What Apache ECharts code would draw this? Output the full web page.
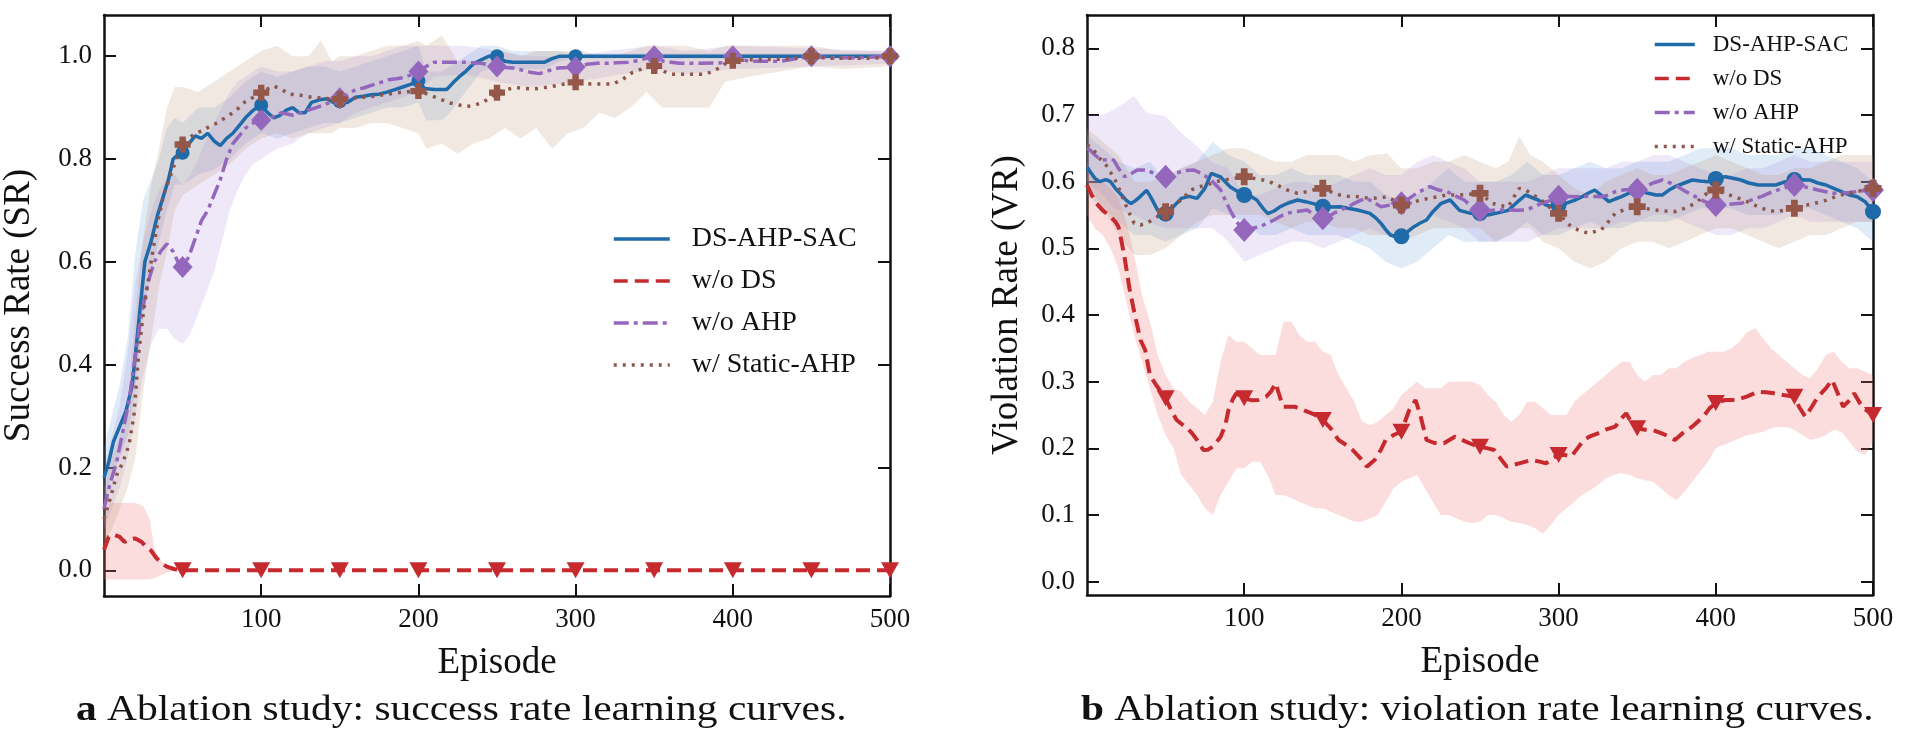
<!DOCTYPE html>
<html>
<head>
<meta charset="utf-8">
<script src="https://cdn.jsdelivr.net/npm/echarts@6/dist/echarts.min.js"></script>
<style>
html,body{margin:0;padding:0;background:#fff;}
#chart{width:1905px;height:745px;}
</style>
</head>
<body>
<div id="chart"></div>
<script>
// ---------- tick labels ----------
const episodeTicks = [100, 200, 300, 400, 500];
const srTicks = [0, 0.2, 0.4, 0.6, 0.8, 1.0];
const vrTicks = [0, 0.1, 0.2, 0.3, 0.4, 0.5, 0.6, 0.7, 0.8];
const methodNames = ['DS-AHP-SAC', 'w/o DS', 'w/o AHP', 'w/ Static-AHP'];

// ---------- (a) success rate: mean curves [episode, value] ----------
const srDsAhpSac = [[0,0.18],[3,0.21],[6,0.25],[10,0.28],[14,0.31],[18,0.36],[22,0.48],[26,0.60],[30,0.64],[34,0.69],[38,0.73],[41,0.76],[44,0.80],[47,0.808],[50,0.812],[54,0.83],[58,0.845],[62,0.84],[66,0.85],[70,0.835],[74,0.826],[78,0.84],[82,0.85],[86,0.865],[90,0.88],[95,0.895],[100,0.905],[104,0.89],[108,0.88],[112,0.885],[116,0.895],[120,0.90],[124,0.89],[128,0.89],[132,0.91],[137,0.915],[142,0.917],[146,0.91],[150,0.912],[155,0.91],[160,0.92],[165,0.922],[170,0.925],[175,0.926],[180,0.93],[185,0.935],[190,0.94],[195,0.945],[200,0.952],[204,0.937],[210,0.935],[218,0.935],[222,0.948],[226,0.96],[230,0.97],[235,0.985],[240,0.993],[245,1.0],[250,1.0],[255,0.99],[260,0.988],[270,0.988],[280,0.988],[285,0.995],[290,1.0],[300,1.0],[350,1.0],[400,1.0],[450,1.0],[500,1.0]];
const srWoDs = [[0,0.04],[3,0.065],[6,0.07],[10,0.065],[13,0.055],[16,0.06],[20,0.062],[24,0.055],[27,0.045],[30,0.038],[33,0.025],[36,0.015],[40,0.007],[45,0.002],[50,0],[100,0],[150,0],[200,0],[250,0],[300,0],[350,0],[400,0],[450,0],[500,0]];
const srWoAhp = [[0,0.12],[4,0.17],[8,0.21],[12,0.27],[16,0.33],[20,0.42],[24,0.50],[28,0.56],[32,0.60],[36,0.62],[40,0.635],[44,0.62],[47,0.60],[50,0.59],[54,0.61],[58,0.645],[62,0.68],[66,0.70],[70,0.73],[74,0.76],[78,0.80],[82,0.83],[86,0.845],[90,0.86],[95,0.87],[100,0.876],[106,0.88],[113,0.89],[120,0.885],[125,0.89],[130,0.895],[135,0.90],[140,0.905],[145,0.912],[150,0.918],[155,0.925],[160,0.935],[165,0.938],[170,0.943],[175,0.948],[181,0.954],[186,0.956],[190,0.958],[195,0.963],[200,0.97],[205,0.98],[210,0.988],[220,0.988],[230,0.988],[240,0.986],[245,0.983],[250,0.98],[255,0.978],[260,0.977],[267,0.972],[272,0.968],[277,0.966],[283,0.972],[289,0.977],[295,0.978],[300,0.979],[307,0.984],[314,0.986],[320,0.986],[326,0.987],[335,0.988],[340,0.992],[345,0.996],[350,1.0],[356,0.99],[366,0.986],[380,0.986],[395,0.987],[400,1.0],[410,0.99],[430,0.99],[450,1.0],[460,0.997],[480,0.997],[500,1.0]];
const srStaticAhp = [[0,0.10],[4,0.14],[8,0.185],[12,0.21],[16,0.245],[19,0.30],[22,0.42],[25,0.50],[28,0.56],[31,0.62],[35,0.69],[38,0.73],[42,0.765],[46,0.80],[50,0.828],[54,0.84],[58,0.85],[63,0.855],[68,0.865],[72,0.87],[77,0.88],[82,0.89],[86,0.90],[90,0.912],[95,0.92],[100,0.929],[104,0.936],[108,0.942],[113,0.935],[118,0.926],[125,0.924],[132,0.92],[140,0.918],[150,0.916],[158,0.918],[165,0.92],[172,0.922],[180,0.926],[190,0.93],[200,0.932],[205,0.927],[209,0.922],[215,0.915],[220,0.909],[226,0.905],[231,0.902],[236,0.905],[241,0.91],[246,0.92],[250,0.929],[256,0.935],[262,0.939],[268,0.937],[273,0.936],[278,0.938],[283,0.94],[290,0.944],[295,0.947],[300,0.949],[305,0.947],[310,0.946],[318,0.946],[324,0.946],[330,0.955],[336,0.968],[342,0.975],[350,0.981],[355,0.972],[360,0.965],[370,0.965],[383,0.965],[390,0.975],[395,0.985],[400,0.991],[410,0.993],[420,0.993],[430,0.994],[440,0.996],[450,1.0],[460,0.996],[475,0.996],[490,0.996],[500,1.0]];

// ---------- (a) success rate: bands [episode, low, high] ----------
const srBandDsAhpSac = [[0,0.12,0.24],[5,0.18,0.30],[10,0.22,0.36],[15,0.26,0.45],[20,0.35,0.62],[25,0.50,0.72],[30,0.58,0.76],[35,0.64,0.80],[40,0.70,0.86],[45,0.75,0.88],[50,0.75,0.87],[60,0.77,0.90],[70,0.78,0.90],[80,0.80,0.92],[90,0.83,0.95],[100,0.85,0.97],[110,0.84,0.96],[120,0.85,0.97],[130,0.86,0.98],[140,0.87,0.98],[150,0.87,0.97],[160,0.88,0.98],[170,0.89,0.99],[180,0.90,1.00],[190,0.90,1.01],[200,0.91,1.02],[205,0.875,0.97],[215,0.876,0.97],[220,0.89,0.98],[230,0.93,1.00],[240,0.97,1.02],[250,0.98,1.02],[260,0.975,1.01],[280,0.975,1.01],[290,0.99,1.01],[300,0.995,1.005],[500,0.995,1.005]];
const srBandWoDs = [[0,-0.018,0.10],[3,-0.018,0.131],[10,-0.018,0.131],[20,-0.018,0.131],[25,-0.018,0.125],[29,-0.018,0.10],[32,-0.015,0.043],[36,-0.01,0.02],[40,-0.005,0.008],[45,0,0.002],[50,0,0]];
const srBandWoAhp = [[0,0.08,0.20],[5,0.12,0.26],[10,0.16,0.32],[15,0.22,0.42],[20,0.30,0.56],[25,0.38,0.64],[30,0.44,0.70],[35,0.47,0.74],[40,0.47,0.76],[45,0.45,0.77],[50,0.44,0.75],[55,0.46,0.77],[60,0.50,0.80],[65,0.54,0.84],[70,0.58,0.87],[75,0.64,0.90],[80,0.70,0.93],[85,0.74,0.95],[90,0.77,0.96],[95,0.79,0.97],[100,0.80,0.98],[110,0.82,0.97],[120,0.83,0.97],[130,0.85,0.98],[140,0.86,0.99],[150,0.87,0.99],[160,0.89,1.00],[170,0.90,1.00],[180,0.91,1.01],[190,0.92,1.02],[200,0.93,1.02],[210,0.96,1.02],[230,0.965,1.02],[250,0.95,1.01],[270,0.94,1.00],[300,0.95,1.00],[320,0.96,1.01],[350,0.975,1.02],[370,0.965,1.01],[400,0.975,1.02],[450,0.98,1.015],[500,0.985,1.01]];
const srBandStaticAhp = [[0,0.05,0.16],[5,0.08,0.22],[10,0.12,0.26],[15,0.16,0.32],[20,0.22,0.50],[25,0.35,0.65],[30,0.45,0.75],[35,0.55,0.82],[40,0.62,0.90],[45,0.70,0.94],[50,0.73,0.94],[60,0.75,0.93],[70,0.77,0.95],[80,0.79,0.97],[90,0.82,0.99],[100,0.84,1.01],[110,0.85,1.02],[120,0.84,1.00],[130,0.85,1.00],[138,0.85,1.03],[145,0.85,0.99],[150,0.86,1.00],[160,0.86,1.00],[170,0.87,1.01],[180,0.87,1.02],[190,0.86,1.02],[200,0.85,1.03],[205,0.82,1.02],[215,0.83,1.04],[225,0.81,0.99],[235,0.83,0.99],[245,0.84,1.00],[255,0.86,1.01],[265,0.84,1.00],[275,0.86,1.01],[285,0.82,1.01],[295,0.85,1.01],[305,0.86,1.01],[315,0.89,1.00],[325,0.88,1.00],[335,0.90,1.01],[345,0.93,1.02],[355,0.90,1.02],[370,0.90,1.02],[385,0.90,1.01],[395,0.95,1.02],[410,0.96,1.02],[430,0.97,1.02],[450,0.98,1.02],[470,0.975,1.01],[500,0.98,1.01]];

// ---------- (b) violation rate: mean curves [episode, value] ----------
const vrDsAhpSac = [[0,0.622],[2,0.615],[5,0.605],[8,0.60],[12,0.603],[15,0.60],[18,0.59],[22,0.58],[25,0.572],[28,0.567],[31,0.572],[34,0.578],[38,0.587],[41,0.575],[45,0.557],[50,0.552],[55,0.5625],[60,0.575],[65,0.578],[70,0.575],[75,0.59],[79,0.6125],[85,0.607],[91,0.5925],[96,0.585],[100,0.58],[104,0.578],[108,0.5725],[112,0.56],[115,0.552],[119,0.556],[123,0.5625],[128,0.568],[134,0.5725],[139,0.57],[144,0.567],[150,0.5625],[155,0.562],[161,0.5625],[166,0.56],[172,0.5575],[176,0.555],[180,0.5525],[184,0.545],[187,0.5375],[190,0.528],[193,0.52],[197,0.517],[200,0.518],[204,0.525],[208,0.5325],[212,0.538],[216,0.5425],[220,0.555],[225,0.567],[231,0.5725],[237,0.557],[244,0.5525],[250,0.553],[255,0.55],[260,0.5525],[268,0.557],[274,0.57],[279,0.58],[287,0.5725],[292,0.565],[296,0.5625],[300,0.565],[304,0.567],[310,0.572],[315,0.5775],[319,0.583],[323,0.5875],[328,0.578],[332,0.57],[336,0.574],[340,0.5775],[345,0.583],[350,0.5875],[357,0.5825],[362,0.58],[366,0.58],[370,0.587],[374,0.5925],[380,0.598],[385,0.6025],[390,0.601],[395,0.60],[400,0.604],[406,0.6075],[411,0.605],[416,0.6025],[421,0.598],[427,0.595],[432,0.595],[438,0.595],[443,0.599],[450,0.6025],[455,0.603],[460,0.6025],[465,0.598],[470,0.595],[475,0.59],[480,0.585],[485,0.58],[490,0.5775],[495,0.57],[500,0.555]];
const vrWoDs = [[0,0.595],[3,0.58],[6,0.5675],[10,0.557],[15,0.5475],[18,0.54],[20,0.5325],[22,0.51],[24,0.485],[27,0.44],[30,0.405],[34,0.3625],[37,0.3475],[40,0.31],[44,0.295],[47,0.285],[50,0.275],[54,0.255],[57,0.2425],[61,0.235],[64,0.23],[67,0.222],[70,0.2125],[74,0.1975],[77,0.198],[80,0.2025],[85,0.2175],[88,0.235],[90,0.2575],[93,0.275],[95,0.2825],[100,0.275],[105,0.272],[109,0.2725],[114,0.2775],[117,0.285],[120,0.2975],[123,0.275],[125,0.2625],[132,0.2625],[137,0.258],[143,0.2525],[147,0.248],[150,0.2425],[155,0.23],[160,0.2125],[165,0.205],[169,0.1975],[174,0.185],[178,0.1725],[183,0.1825],[187,0.198],[190,0.2125],[195,0.22],[200,0.225],[205,0.2575],[209,0.2725],[212,0.25],[216,0.2125],[221,0.208],[227,0.2075],[234,0.2175],[241,0.21],[246,0.205],[250,0.2025],[255,0.20],[259,0.1975],[263,0.185],[267,0.1725],[271,0.175],[275,0.1775],[283,0.1825],[288,0.18],[292,0.1775],[296,0.185],[300,0.19],[304,0.19],[308,0.1875],[312,0.20],[316,0.2125],[320,0.218],[325,0.2225],[330,0.228],[336,0.2325],[340,0.245],[343,0.2525],[346,0.24],[350,0.23],[355,0.228],[360,0.2275],[366,0.222],[370,0.218],[374,0.2125],[380,0.225],[385,0.2325],[392,0.2475],[396,0.26],[400,0.268],[406,0.2725],[413,0.2725],[420,0.278],[427,0.285],[432,0.284],[437,0.2825],[443,0.28],[450,0.2775],[453,0.262],[457,0.2475],[461,0.262],[465,0.2775],[470,0.29],[474,0.3025],[478,0.28],[481,0.2625],[485,0.272],[488,0.2825],[493,0.2625],[497,0.255],[500,0.25]];
const vrWoAhp = [[0,0.65],[2,0.6475],[5,0.64],[9,0.6325],[13,0.633],[17,0.6325],[20,0.62],[24,0.6075],[28,0.612],[32,0.6175],[38,0.6175],[43,0.612],[50,0.6075],[55,0.612],[60,0.615],[64,0.617],[68,0.6175],[73,0.612],[79,0.6025],[82,0.595],[85,0.5875],[88,0.572],[91,0.5575],[95,0.54],[100,0.5275],[105,0.53],[110,0.5325],[115,0.538],[119,0.5425],[123,0.548],[127,0.5525],[133,0.555],[140,0.5575],[145,0.55],[150,0.545],[155,0.55],[161,0.5575],[166,0.562],[170,0.5675],[174,0.572],[178,0.575],[183,0.568],[187,0.5625],[193,0.565],[200,0.5675],[205,0.575],[210,0.583],[214,0.588],[218,0.5925],[223,0.588],[229,0.585],[235,0.578],[240,0.5725],[245,0.562],[250,0.5575],[255,0.556],[260,0.5575],[268,0.5575],[274,0.557],[279,0.5575],[285,0.563],[289,0.5675],[295,0.572],[300,0.5775],[305,0.578],[310,0.5775],[318,0.578],[327,0.5775],[332,0.58],[336,0.585],[342,0.588],[350,0.588],[355,0.592],[360,0.598],[366,0.6025],[371,0.598],[376,0.5925],[381,0.585],[387,0.5775],[393,0.57],[400,0.565],[408,0.566],[416,0.5675],[422,0.572],[429,0.5775],[436,0.585],[443,0.59],[450,0.595],[457,0.592],[465,0.5875],[470,0.585],[475,0.5825],[482,0.583],[490,0.585],[495,0.587],[500,0.5875]];
const vrStaticAhp = [[0,0.655],[2,0.6525],[5,0.645],[7,0.6375],[10,0.63],[13,0.6225],[16,0.61],[19,0.5975],[22,0.58],[26,0.5575],[30,0.5375],[34,0.535],[38,0.5375],[43,0.545],[50,0.555],[55,0.565],[60,0.5725],[63,0.58],[66,0.5875],[71,0.592],[76,0.595],[82,0.60],[87,0.6025],[93,0.605],[100,0.6075],[106,0.605],[112,0.6025],[118,0.598],[123,0.5925],[128,0.587],[134,0.5825],[140,0.585],[145,0.588],[150,0.59],[155,0.585],[161,0.58],[166,0.578],[172,0.5775],[177,0.576],[182,0.575],[187,0.576],[191,0.5775],[195,0.572],[200,0.565],[206,0.568],[212,0.5725],[220,0.576],[229,0.58],[237,0.58],[243,0.581],[250,0.5825],[254,0.575],[258,0.5675],[263,0.564],[268,0.5625],[271,0.575],[275,0.59],[279,0.5875],[284,0.58],[289,0.5725],[294,0.562],[300,0.5525],[304,0.542],[308,0.5325],[313,0.527],[319,0.5225],[323,0.525],[327,0.5275],[331,0.538],[336,0.5525],[342,0.558],[350,0.5625],[355,0.56],[361,0.5575],[368,0.556],[374,0.555],[380,0.56],[387,0.5675],[392,0.578],[397,0.5875],[400,0.5875],[406,0.582],[412,0.5775],[420,0.57],[427,0.5625],[432,0.558],[438,0.555],[443,0.557],[450,0.56],[456,0.564],[463,0.5675],[470,0.572],[476,0.5775],[483,0.582],[490,0.585],[495,0.588],[500,0.59]];

// ---------- (b) violation rate: bands [episode, low, high] ----------
const vrBandDsAhpSac = [[0,0.58,0.67],[10,0.56,0.65],[20,0.54,0.63],[30,0.52,0.62],[40,0.52,0.63],[50,0.51,0.60],[60,0.52,0.62],[70,0.53,0.63],[80,0.56,0.66],[90,0.55,0.64],[100,0.54,0.63],[110,0.52,0.61],[120,0.52,0.61],[130,0.53,0.62],[140,0.52,0.61],[150,0.52,0.61],[160,0.52,0.61],[170,0.51,0.60],[180,0.50,0.60],[190,0.48,0.58],[200,0.47,0.57],[210,0.48,0.58],[220,0.50,0.60],[230,0.52,0.62],[240,0.51,0.60],[250,0.51,0.60],[260,0.51,0.60],[270,0.52,0.61],[280,0.54,0.63],[290,0.52,0.61],[300,0.52,0.61],[310,0.53,0.62],[320,0.54,0.63],[330,0.53,0.62],[340,0.53,0.62],[350,0.54,0.63],[360,0.54,0.63],[370,0.54,0.63],[380,0.55,0.64],[390,0.56,0.65],[400,0.56,0.65],[410,0.56,0.65],[420,0.55,0.64],[430,0.55,0.64],[440,0.55,0.64],[450,0.56,0.65],[460,0.56,0.65],[470,0.55,0.64],[480,0.54,0.63],[490,0.53,0.62],[500,0.51,0.60]];
const vrBandWoDs = [[0,0.55,0.63],[5,0.53,0.61],[10,0.52,0.60],[15,0.50,0.59],[20,0.47,0.575],[25,0.42,0.54],[30,0.37,0.49],[35,0.33,0.43],[40,0.29,0.39],[45,0.25,0.34],[50,0.22,0.31],[55,0.20,0.29],[60,0.16,0.285],[65,0.145,0.27],[70,0.13,0.26],[75,0.11,0.25],[80,0.10,0.27],[85,0.13,0.33],[90,0.15,0.37],[95,0.17,0.36],[100,0.17,0.36],[105,0.18,0.35],[110,0.18,0.34],[115,0.16,0.34],[120,0.13,0.34],[125,0.13,0.39],[130,0.125,0.39],[135,0.12,0.37],[140,0.115,0.36],[145,0.11,0.36],[150,0.11,0.345],[155,0.105,0.34],[160,0.10,0.31],[165,0.095,0.29],[170,0.09,0.27],[175,0.09,0.24],[180,0.095,0.235],[185,0.10,0.24],[190,0.12,0.25],[195,0.14,0.26],[200,0.15,0.28],[205,0.155,0.29],[210,0.16,0.30],[215,0.14,0.29],[220,0.12,0.29],[225,0.10,0.29],[230,0.10,0.30],[235,0.095,0.30],[240,0.09,0.30],[245,0.088,0.30],[250,0.09,0.295],[255,0.10,0.28],[260,0.10,0.27],[265,0.095,0.25],[270,0.09,0.24],[275,0.088,0.25],[280,0.085,0.27],[285,0.08,0.27],[290,0.072,0.26],[295,0.085,0.25],[300,0.10,0.25],[305,0.11,0.25],[310,0.12,0.27],[315,0.13,0.28],[320,0.137,0.29],[325,0.145,0.30],[330,0.155,0.31],[335,0.16,0.32],[340,0.163,0.33],[345,0.16,0.33],[350,0.155,0.31],[355,0.152,0.30],[360,0.15,0.31],[365,0.14,0.31],[370,0.13,0.32],[375,0.122,0.32],[380,0.135,0.33],[385,0.15,0.335],[390,0.165,0.34],[395,0.18,0.345],[400,0.20,0.345],[405,0.205,0.345],[410,0.21,0.35],[415,0.215,0.36],[420,0.22,0.375],[425,0.222,0.38],[430,0.225,0.365],[435,0.23,0.35],[440,0.232,0.34],[445,0.232,0.33],[450,0.228,0.32],[455,0.22,0.31],[460,0.213,0.305],[465,0.215,0.32],[470,0.22,0.34],[475,0.228,0.345],[480,0.225,0.33],[485,0.21,0.32],[490,0.195,0.32],[495,0.19,0.315],[500,0.21,0.31]];
const vrBandWoAhp = [[0,0.60,0.70],[10,0.58,0.70],[17,0.56,0.708],[30,0.55,0.728],[38,0.54,0.703],[50,0.53,0.698],[60,0.53,0.673],[70,0.53,0.653],[80,0.53,0.628],[90,0.51,0.62],[100,0.48,0.58],[110,0.49,0.58],[120,0.50,0.59],[130,0.51,0.60],[140,0.51,0.60],[150,0.50,0.59],[160,0.51,0.60],[170,0.52,0.61],[180,0.53,0.62],[190,0.52,0.61],[200,0.52,0.61],[210,0.54,0.63],[220,0.55,0.64],[230,0.54,0.63],[240,0.53,0.62],[250,0.51,0.60],[260,0.51,0.60],[270,0.51,0.60],[280,0.51,0.60],[290,0.52,0.61],[300,0.53,0.62],[310,0.53,0.62],[320,0.53,0.62],[330,0.53,0.62],[340,0.54,0.63],[350,0.54,0.63],[360,0.55,0.64],[370,0.55,0.64],[380,0.54,0.63],[390,0.53,0.62],[400,0.52,0.61],[410,0.52,0.61],[420,0.53,0.62],[430,0.53,0.62],[440,0.54,0.63],[450,0.55,0.64],[460,0.54,0.63],[470,0.54,0.63],[480,0.54,0.63],[490,0.54,0.63],[500,0.54,0.63]];
const vrBandStaticAhp = [[0,0.60,0.68],[10,0.56,0.66],[20,0.52,0.64],[30,0.49,0.60],[40,0.49,0.60],[50,0.50,0.61],[60,0.52,0.62],[70,0.54,0.63],[80,0.55,0.64],[90,0.55,0.65],[100,0.55,0.65],[110,0.55,0.64],[120,0.54,0.63],[130,0.53,0.63],[140,0.54,0.64],[150,0.54,0.64],[159,0.53,0.64],[170,0.53,0.63],[180,0.52,0.64],[191,0.52,0.642],[200,0.51,0.62],[210,0.52,0.62],[220,0.53,0.63],[230,0.53,0.63],[240,0.53,0.64],[250,0.53,0.63],[260,0.51,0.62],[268,0.52,0.63],[275,0.53,0.668],[282,0.53,0.64],[290,0.51,0.63],[300,0.50,0.61],[310,0.48,0.59],[320,0.47,0.58],[330,0.48,0.60],[340,0.50,0.61],[350,0.51,0.62],[360,0.51,0.61],[370,0.50,0.61],[380,0.51,0.62],[390,0.52,0.63],[400,0.53,0.64],[410,0.53,0.63],[420,0.52,0.62],[430,0.51,0.61],[440,0.50,0.61],[450,0.51,0.62],[460,0.52,0.62],[470,0.52,0.63],[480,0.53,0.64],[490,0.54,0.64],[500,0.54,0.64]];

// ---------- styling ----------
const F = "'Liberation Serif', 'Times New Roman', serif";
const INK = '#111111';
const COL = { blue: '#1f6aa8', red: '#c62a2f', purple: '#9467bd', brown: '#8c564b' };
const BAND = { blue: 'rgba(95,155,215,0.2)', red: 'rgba(240,120,120,0.25)', purple: 'rgba(160,125,220,0.18)', brown: 'rgba(190,150,125,0.22)' };
const PLUS = 'path://M30,0H70V30H100V70H70V100H30V70H0V30H30Z';

function xAxes(gridIndex) {
  const base = {
    type: 'value', gridIndex: gridIndex, min: 0, max: 500,
    axisLine: { show: true, onZero: false, lineStyle: { color: INK, width: 2.5 } },
    axisTick: { show: true, inside: true, length: 12, customValues: episodeTicks, lineStyle: { color: INK, width: 2 } },
    splitLine: { show: false }
  };
  return [
    Object.assign({}, base, {
      position: 'bottom', name: 'Episode', nameLocation: 'middle', nameGap: 49,
      nameTextStyle: { fontFamily: F, fontSize: 37, color: INK },
      axisLabel: { show: true, customValues: episodeTicks, margin: 10, fontFamily: F, fontSize: 27, color: INK }
    }),
    Object.assign({}, base, { position: 'top', axisLabel: { show: false } })
  ];
}
function yAxes(gridIndex, min, max, ticks, name, gap) {
  const base = {
    type: 'value', gridIndex: gridIndex, min: min, max: max,
    axisLine: { show: true, onZero: false, lineStyle: { color: INK, width: 2.5 } },
    axisTick: { show: true, inside: true, length: 12, customValues: ticks, lineStyle: { color: INK, width: 2 } },
    splitLine: { show: false }
  };
  return [
    Object.assign({}, base, {
      position: 'left', name: name, nameLocation: 'middle', nameGap: gap,
      nameTextStyle: { fontFamily: F, fontSize: 37, color: INK },
      axisLabel: { show: true, customValues: ticks, margin: 12, fontFamily: F, fontSize: 27, color: INK,
        formatter: function (v) { return Number(v).toFixed(1); } }
    }),
    Object.assign({}, base, { position: 'right', axisLabel: { show: false } })
  ];
}

// shaded band: one polygon through the upper edge and back along the lower edge
function band(rows, color, ai) {
  return {
    type: 'custom', xAxisIndex: ai, yAxisIndex: ai, data: rows, z: 1, silent: true, clip: true,
    encode: { x: 0, y: [1, 2] },
    renderItem: function (params, api) {
      if (params.dataIndex !== 0) return null;
      const upper = rows.map(function (r) { return api.coord([r[0], r[2]]); });
      const lower = rows.slice().reverse().map(function (r) { return api.coord([r[0], r[1]]); });
      return { type: 'polygon', silent: true, shape: { points: upper.concat(lower) }, style: { fill: color, stroke: null } };
    }
  };
}
function curve(name, rows, color, dash, width, ai) {
  return { type: 'line', name: name, xAxisIndex: ai, yAxisIndex: ai, data: rows, symbol: 'none',
    lineStyle: { color: color, width: width, type: dash }, itemStyle: { color: color }, z: 3, silent: true, emphasis: { disabled: true } };
}
function markers(name, rows, color, symbol, size, rotate, ai) {
  return { type: 'scatter', name: name + ' markers', xAxisIndex: ai, yAxisIndex: ai,
    data: rows.filter(function (r) { return r[0] > 0 && r[0] % 50 === 0; }),
    symbol: symbol, symbolSize: size, symbolRotate: rotate, clip: false,
    itemStyle: { color: color, opacity: 1 }, z: 4, silent: true, emphasis: { disabled: true } };
}

function plotSeries(ai, s, b, big) {
  return [
    band(b[0], BAND.blue, ai),
    band(b[1], BAND.red, ai),
    band(b[2], BAND.purple, ai),
    band(b[3], BAND.brown, ai),
    curve(methodNames[0], s[0], COL.blue, 'solid', 3.5, ai),
    curve(methodNames[1], s[1], COL.red, [14, 7], 4, ai),
    curve(methodNames[2], s[2], COL.purple, [15, 5, 4, 5], 3.5, ai),
    curve(methodNames[3], s[3], COL.brown, [3, 6], 3.5, ai),
    markers(methodNames[0], s[0], COL.blue, 'circle', big ? 16 : 14, 0, ai),
    markers(methodNames[1], s[1], COL.red, 'triangle', [18, 16], 180, ai),
    markers(methodNames[2], s[2], COL.purple, 'diamond', big ? [22, 24] : [20, 22], 0, ai),
    markers(methodNames[3], s[3], '#94574a', PLUS, big ? 17 : 16, 0, ai)
  ];
}

const chart = echarts.init(document.getElementById('chart'), null, { renderer: 'canvas' });
const legendBase = { data: methodNames, orient: 'vertical', selectedMode: false, padding: 0,
  itemStyle: { opacity: 0 }, lineStyle: { width: 3.5 } };

chart.setOption({
  animation: false,
  backgroundColor: '#ffffff',
  grid: [
    { left: 104, top: 15, width: 786, height: 581, outerBoundsMode: 'none', containLabel: false },
    { left: 1087, top: 15, width: 786, height: 580, outerBoundsMode: 'none', containLabel: false }
  ],
  xAxis: [].concat(xAxes(0), xAxes(1)),
  yAxis: [].concat(
    yAxes(0, -0.05, 1.08, srTicks, 'Success Rate (SR)', 66),
    yAxes(1, -0.02, 0.85, vrTicks, 'Violation Rate (VR)', 61)
  ),
  legend: [
    Object.assign({}, legendBase, { left: 612, top: 225, itemWidth: 56, itemHeight: 14, itemGap: 14,
      textStyle: { fontFamily: F, fontSize: 28, color: INK, padding: [0, 0, 0, 17] } }),
    Object.assign({}, legendBase, { left: 1653, top: 33, itemWidth: 40, itemHeight: 12, itemGap: 11,
      textStyle: { fontFamily: F, fontSize: 23, color: INK, padding: [0, 0, 0, 13] } })
  ],
  series: [].concat(
    plotSeries(0, [srDsAhpSac, srWoDs, srWoAhp, srStaticAhp], [srBandDsAhpSac, srBandWoDs, srBandWoAhp, srBandStaticAhp], false),
    plotSeries(2, [vrDsAhpSac, vrWoDs, vrWoAhp, vrStaticAhp], [vrBandDsAhpSac, vrBandWoDs, vrBandWoAhp, vrBandStaticAhp], true)
  ),
  graphic: [
    { type: 'text', x: 76, y: 711, scaleX: 1.185, silent: true,
      style: { text: '{b|a}{n| Ablation study: success rate learning curves.}', verticalAlign: 'middle', align: 'left',
        rich: { b: { fontFamily: F, fontSize: 35, fontWeight: 'bold', fill: INK }, n: { fontFamily: F, fontSize: 35, fill: INK } } } },
    { type: 'text', x: 1081, y: 711, scaleX: 1.18, silent: true,
      style: { text: '{b|b}{n| Ablation study: violation rate learning curves.}', verticalAlign: 'middle', align: 'left',
        rich: { b: { fontFamily: F, fontSize: 35, fontWeight: 'bold', fill: INK }, n: { fontFamily: F, fontSize: 35, fill: INK } } } }
  ]
});
</script>
</body>
</html>
